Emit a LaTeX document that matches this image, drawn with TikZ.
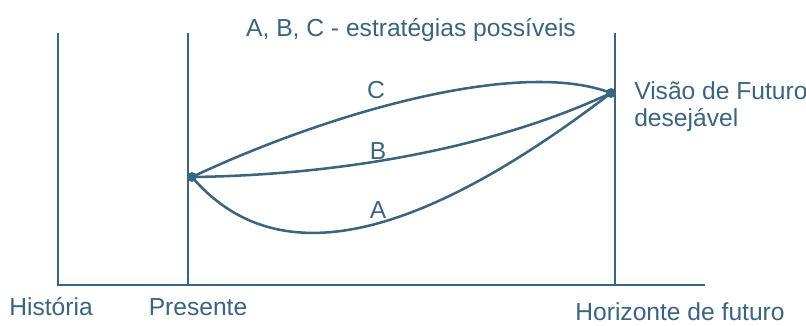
\documentclass[tikz,border=0pt]{standalone}
\usepackage{fontspec}
\setmainfont{Liberation Sans}
\definecolor{inkblue}{HTML}{3B6480}
\tikzset{
  axisline/.style={line width=1.8pt, draw=inkblue},
  pathline/.style={line width=1.8pt, draw=inkblue, line cap=round},
  enddot/.style={circle, fill=inkblue, inner sep=0pt, minimum size=7pt},
  txt/.style={font=\fontsize{17.5}{22}\selectfont, text=inkblue, inner sep=0pt},
}
\begin{document}
\begin{tikzpicture}[x=0.025cm, y=-0.025cm]
\useasboundingbox (0,0) rectangle (806,325);
\coordinate (hist top) at (58,33);
\coordinate (origin) at (58,285);
\coordinate (pres top) at (188,33);
\coordinate (pres bot) at (188,285);
\coordinate (hor top) at (615,33);
\coordinate (hor bot) at (615,285);
\coordinate (axis end) at (705,285);
\draw[axisline] (hist top) -- (origin) -- (axis end);
\draw[axisline] (pres top) -- (pres bot);
\draw[axisline] (hor top) -- (hor bot);
\node[enddot] (now) at (192,177) {};
\node[enddot] (goal) at (611,93) {};
\draw[pathline] (now.center) .. controls (330,112) and (520,58) .. (goal.center);
\draw[pathline] (now.center) .. controls (350,175) and (500,145) .. (goal.center);
\draw[pathline] (now.center) .. controls (265,262) and (390,262) .. (goal.center);
\node[txt, anchor=base] (lblC) at (376,98) {C};
\node[txt, anchor=base] (lblB) at (378,159) {B};
\node[txt, anchor=base] (lblA) at (378,218) {A};
\node[txt, anchor=base] (title) at (411,36) {A, B, C - estratégias possíveis};
\node[txt, anchor=base west] (vision) at (634,99) {Visão de Futuro};
\node[txt, anchor=base west] (vision2) at (634,126) {desejável};
\node[txt, anchor=base] (history) at (51,315) {História};
\node[txt, anchor=base] (present) at (198,315) {Presente};
\node[txt, anchor=base] (horizon) at (680,320) {Horizonte de futuro};
\end{tikzpicture}
\end{document}
